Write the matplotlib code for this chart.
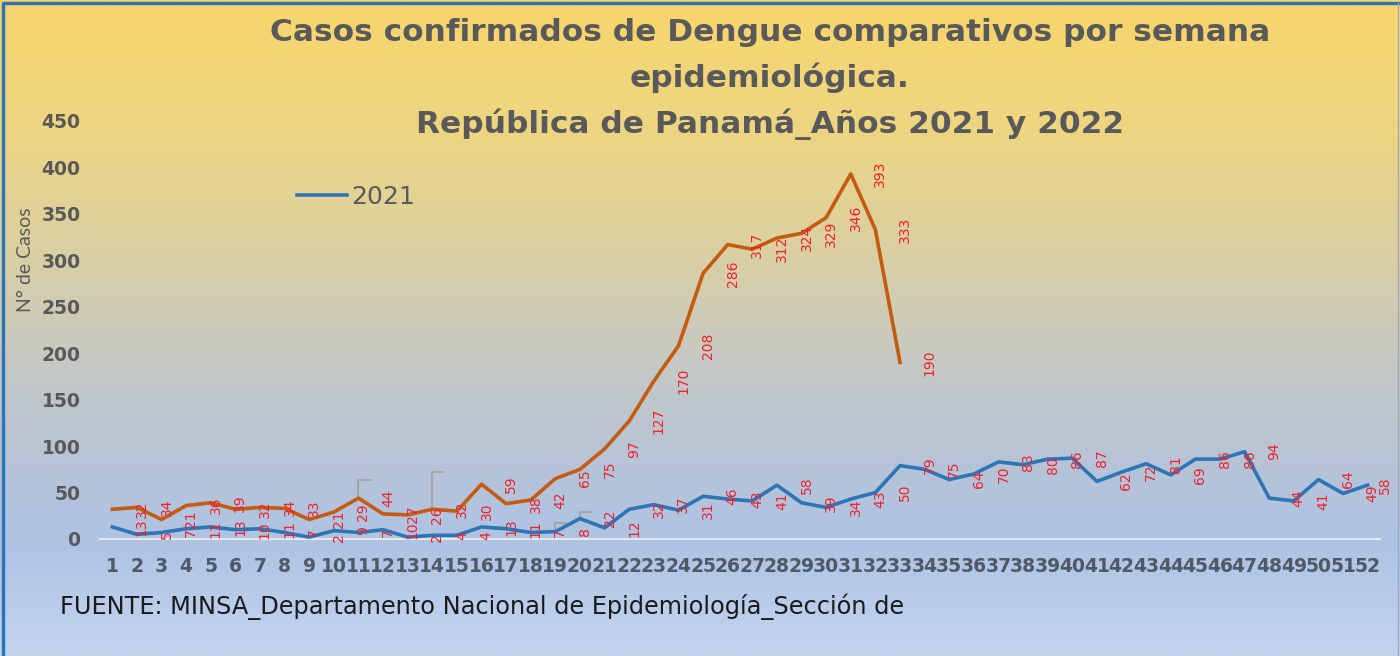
import numpy as np
import matplotlib.pyplot as plt
from matplotlib.colors import LinearSegmentedColormap
from matplotlib.lines import Line2D

plt.rcParams["font.family"] = ["DejaVu Sans"]

# Datos
semanas = list(range(1, 53))
casos_2021 = [13, 5, 7, 11, 13, 10, 11, 7, 2, 9, 7, 10, 2, 4, 4, 13, 11, 7, 8, 22,
              12, 32, 37, 31, 46, 43, 41, 58, 39, 34, 43, 50, 79, 75, 64, 70, 83, 80, 86, 87,
              62, 72, 81, 69, 86, 86, 94, 44, 41, 64, 49, 58]
semanas_2022 = list(range(1, 34))
casos_2022 = [32, 34, 21, 36, 39, 32, 34, 33, 21, 29, 44, 27, 26, 32, 30, 59, 38, 42, 65, 75,
              97, 127, 170, 208, 286, 317, 312, 324, 329, 346, 393, 333, 190]

titulo = ("Casos confirmados de Dengue comparativos por semana\n"
          "epidemiológica.\nRepública de Panamá_Años 2021 y 2022")
fuente = "FUENTE: MINSA_Departamento Nacional de Epidemiología_Sección de"

azul = "#2E75B6"
naranja = "#C55A11"
gris = "#595959"

fig = plt.figure(figsize=(14, 6.56), dpi=100)

# Fondo degradado
bg = fig.add_axes([0, 0, 1, 1], zorder=0)
cmap = LinearSegmentedColormap.from_list("fondo", [
    (0.0, "#F8D66C"), (0.2, "#EDD582"), (0.4, "#D8CFA6"), (0.55, "#C6C9C4"),
    (0.7, "#B7C4D6"), (0.83, "#AEC3E4"), (1.0, "#C3D4EF")])
bg.imshow(np.linspace(0, 1, 256).reshape(-1, 1), aspect="auto", cmap=cmap,
          extent=[0, 1, 0, 1], origin="upper")
bg.set_xlim(0, 1)
bg.set_ylim(0, 1)
bg.plot([0.002, 0.002, 0.9985], [0, 0.996, 0.996], color=azul, lw=2.5)
bg.plot([0.9985, 0.9985], [0, 0.996], color="#A0A8B0", lw=1)
bg.axis("off")

ax = fig.add_axes([100 / 1400, 1 - 539 / 656, 1280 / 1400, 418 / 656], zorder=1)
ax.set_facecolor("none")

ax.plot(semanas, casos_2021, color=azul, lw=2.6, label="2021", zorder=3)
ax.plot(semanas_2022, casos_2022, color=naranja, lw=2.6, zorder=3)

# Etiquetas de datos
for s, v in zip(semanas, casos_2021):
    ax.text(min(s + 1.2, 52.7), v, str(v), rotation=90, color="#F0202A",
            fontsize=10, ha="center", va="center", zorder=4)
for s, v in zip(semanas_2022, casos_2022):
    ax.text(s + 1.2, v, str(v), rotation=90, color="#F0202A",
            fontsize=10, ha="center", va="center", zorder=4)

# Líneas guía de etiquetas
guias = [(casos_2022, 11, 20, 0.5), (casos_2022, 14, 40, 0.45),
         (casos_2021, 19, 9, 0.45), (casos_2021, 20, 7, 0.45)]
for serie, s, dy, ancho in guias:
    v = serie[s - 1]
    ax.plot([s, s, s + ancho], [v, v + dy, v + dy], color="#A6A6A6", lw=1.5, zorder=2)

ax.set_xlim(0.5, 52.5)
ax.set_ylim(0, 450)
ax.set_xticks(semanas)
ax.set_xticklabels([str(s) for s in semanas])
ax.set_yticks(range(0, 451, 50))
for sp in ["top", "right", "left"]:
    ax.spines[sp].set_visible(False)
ax.spines["bottom"].set_color("#E6E6E2")
ax.spines["bottom"].set_linewidth(1.5)
ax.tick_params(axis="both", length=0)
ax.tick_params(axis="y", pad=14, labelsize=13.5, labelcolor=gris)
ax.tick_params(axis="x", pad=13, labelsize=13.5, labelcolor="#505A66")
for t in ax.get_xticklabels() + ax.get_yticklabels():
    t.set_fontweight("bold")

fig.text(26 / 1400, 1 - 260 / 656, "N° de Casos", rotation=90, ha="center",
         va="center", fontsize=14, color=gris, family="Lato")

fig.text(770 / 1400, 1 - 18 / 656, titulo, ha="center", va="top", fontsize=22.5,
         fontweight="bold", color=gris, linespacing=1.63)

fig.text(60 / 1400, 1 - 607 / 656, fuente, ha="left", va="center", fontsize=17.3,
         color="#1A1A1A")

leyenda = [Line2D([0], [0], color=azul, lw=2.6)]
fig.legend(leyenda, ["2021"], loc="center left", bbox_to_anchor=(274 / 1400, 1 - 197 / 656),
           frameon=False, fontsize=18, labelcolor=gris,
           handlelength=2.0, handletextpad=0.2)

fig.savefig("out.png", dpi=100)
